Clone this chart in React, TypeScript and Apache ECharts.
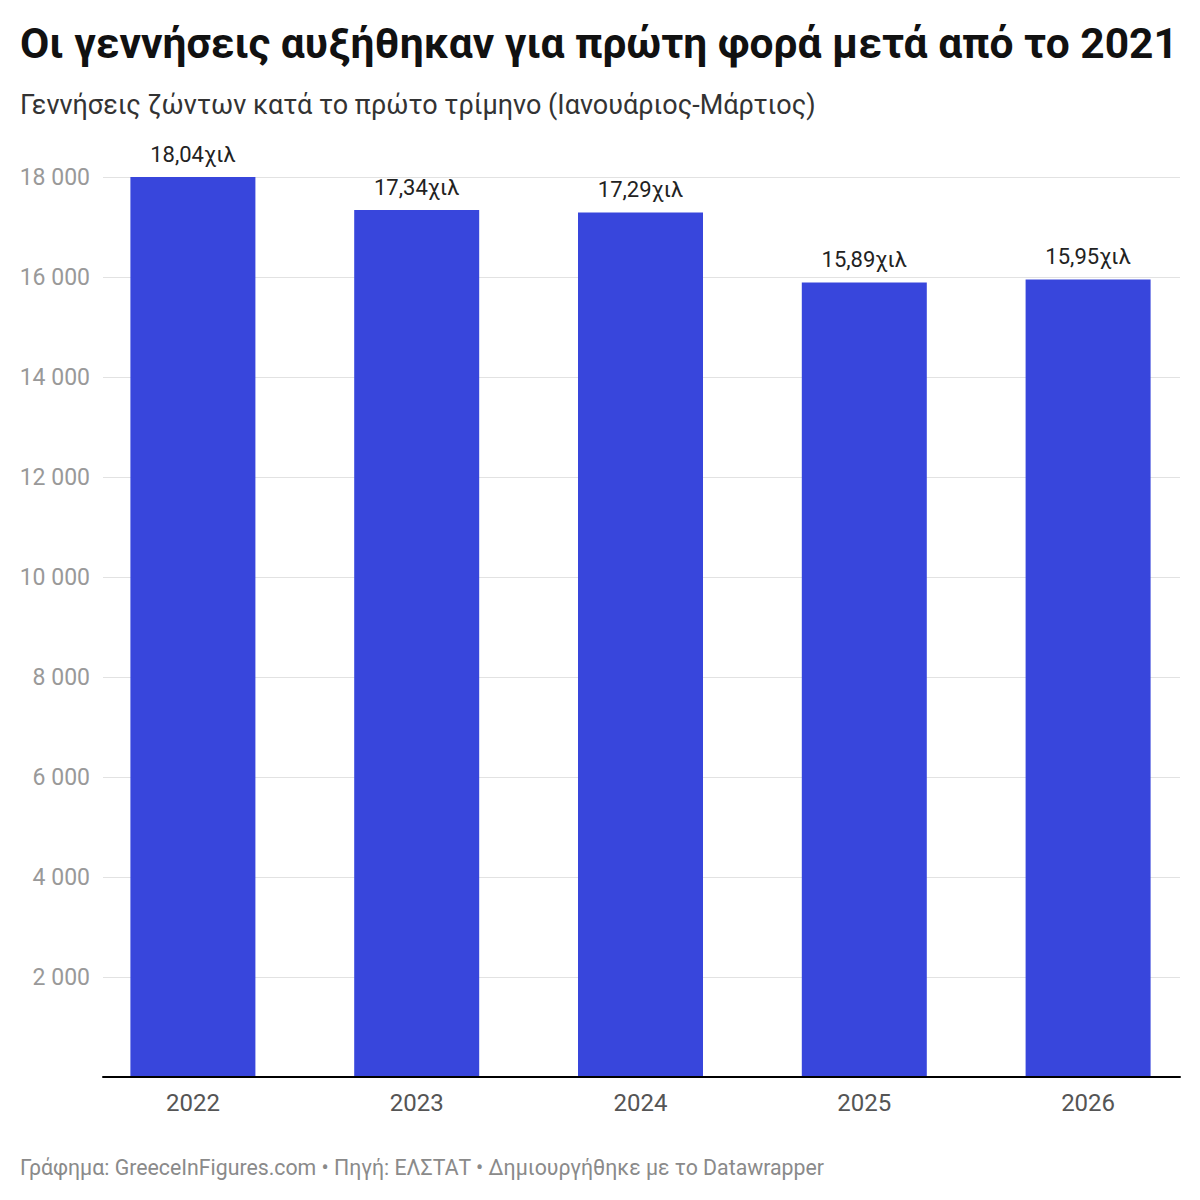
import React, { useEffect, useRef } from "react";
import * as echarts from "echarts";

const categories = ["2022", "2023", "2024", "2025", "2026"];
const births = [18040, 17340, 17290, 15890, 15950];
const yTicks = [0, 2000, 4000, 6000, 8000, 10000, 12000, 14000, 16000, 18000];

const title = "Οι γεννήσεις αυξήθηκαν για πρώτη φορά μετά από το 2021";
const subtitle = "Γεννήσεις ζώντων κατά το πρώτο τρίμηνο (Ιανουάριος-Μάρτιος)";
const footer = "Γράφημα: GreeceInFigures.com • Πηγή: ΕΛΣΤΑΤ • Δημιουργήθηκε με το Datawrapper";

const FONT = "Roboto, 'Noto Sans', sans-serif";

export default function App() {
  const ref = useRef<HTMLDivElement>(null);
  useEffect(() => {
    if (!ref.current) return;
    const chart = echarts.init(ref.current, null, { renderer: "svg" });
    const fmtThousands = (v: number) =>
      v === 0 ? "" : String(v).replace(/\B(?=(\d{3})+(?!\d))/g, " ");
    chart.setOption({
      animation: false,
      backgroundColor: "#ffffff",
      textStyle: { fontFamily: FONT },
      title: [
        {
          text: title,
          left: 15,
          top: 17,
          textStyle: { fontFamily: FONT, fontSize: 42.5, fontWeight: "bold", color: "#111" },
        },
        {
          text: subtitle,
          left: 15,
          top: 86,
          textStyle: { fontFamily: FONT, fontSize: 27, fontWeight: "normal", color: "#333" },
        },
        {
          text: footer,
          left: 15,
          top: 1152,
          textStyle: { fontFamily: FONT, fontSize: 21.3, fontWeight: "normal", color: "#8a8a8a" },
        },
      ],
      grid: [
        { left: 103, right: 20, top: 177, bottom: 123, containLabel: false },
        { left: 81, width: 1123, top: 177, bottom: 123, containLabel: false },
      ],
      xAxis: [
        {
          gridIndex: 0,
          type: "category",
          data: categories,
          axisLine: { show: true, lineStyle: { color: "#000", width: 2 } },
          axisTick: { show: false },
          axisLabel: { show: false },
          splitLine: { show: false },
          z: 5,
        },
        {
          gridIndex: 1,
          type: "category",
          data: categories,
          axisLine: { show: false },
          axisTick: { show: false },
          axisLabel: { show: true, fontFamily: FONT, fontSize: 24, color: "#555", margin: 14 },
          splitLine: { show: false },
        },
      ],
      yAxis: [
        {
          gridIndex: 0,
          type: "value",
          min: yTicks[0],
          max: yTicks[yTicks.length - 1],
          interval: 2000,
          axisLine: { show: false },
          axisTick: { show: false },
          axisLabel: {
            fontFamily: FONT,
            fontSize: 23,
            color: "#999",
            margin: 13,
            formatter: (v: number) => fmtThousands(v),
          },
          splitLine: { show: true, lineStyle: { color: "#e2e2e2", width: 1 } },
        },
        {
          gridIndex: 1,
          type: "value",
          min: yTicks[0],
          max: yTicks[yTicks.length - 1],
          interval: 2000,
          show: false,
        },
      ],
      series: [
        {
          type: "bar",
          xAxisIndex: 1,
          yAxisIndex: 1,
          data: births,
          barWidth: 125,
          itemStyle: { color: "#3846DC" },
          label: {
            show: true,
            position: "top",
            distance: 12,
            fontFamily: FONT,
            fontSize: 22,
            color: "#222",
            formatter: (p: any) => (p.value / 1000).toFixed(2).replace(".", ",") + "χιλ",
          },
          z: 3,
        },
      ],
    });
    return () => chart.dispose();
  }, []);
  return (
    <div
      ref={ref}
      style={{ position: "absolute", left: 0, top: 0, width: 1200, height: 1200 }}
    />
  );
}
